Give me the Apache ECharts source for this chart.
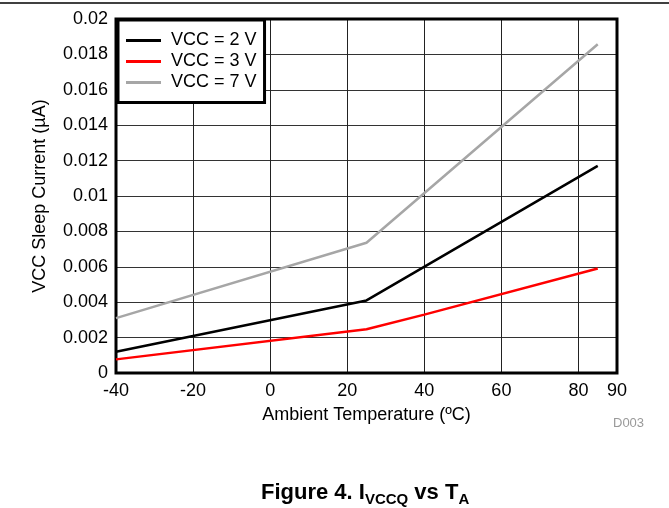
<!DOCTYPE html>
<html>
<head>
<meta charset="utf-8">
<script src="https://cdn.jsdelivr.net/npm/echarts@6/dist/echarts.min.js"></script>
<style>
html,body{margin:0;padding:0;background:#fff;}
#c{width:669px;height:508px;}
</style>
</head>
<body>
<div id="c"></div>
<script>
// Data
var seriesNames = ['VCC = 2 V', 'VCC = 3 V', 'VCC = 7 V'];
var tempVcc2 = [-40, 25, 85];
var currVcc2 = [0.0012, 0.0041, 0.0117];
var tempVcc3 = [-40, 25, 40, 85];
var currVcc3 = [0.00077, 0.00247, 0.0033, 0.0059];
var tempVcc7 = [-40, 25, 85];
var currVcc7 = [0.0031, 0.00736, 0.01857];
var xMin = -40, xMax = 90, xStep = 20;
var yMin = 0, yMax = 0.02, yStep = 0.002;

function pairs(xs, ys) { return xs.map(function (x, i) { return [x, ys[i]]; }); }

var FONT = "'Liberation Sans', Arial, sans-serif";
var chart = echarts.init(document.getElementById('c'), null, {renderer: 'canvas'});
chart.setOption({
  animation: false,
  backgroundColor: '#fff',
  textStyle: {fontFamily: FONT},
  title: {
    left: 261,
    top: 479,
    padding: 0,
    text: '{a|Figure 4. I}{s|VCCQ}{a| vs T}{s|A}',
    textStyle: {
      rich: {
        a: {fontFamily: FONT, fontSize: 22, fontWeight: 'bold', color: '#000', lineHeight: 28, verticalAlign: 'middle'},
        s: {fontFamily: FONT, fontSize: 15, fontWeight: 'bold', color: '#000', lineHeight: 15, verticalAlign: 'bottom'}
      }
    }
  },
  grid: {
    left: 116, right: 52, top: 19, bottom: 135,
    show: true, borderColor: '#000', borderWidth: 3, backgroundColor: 'transparent', z: 3
  },
  legend: {
    orient: 'vertical',
    left: 118, top: 20,
    padding: [10.5, 8, 10, 8],
    itemGap: 1,
    itemWidth: 35, itemHeight: 3,
    icon: 'rect',
    backgroundColor: '#fff',
    borderColor: '#000', borderWidth: 3,
    textStyle: {fontFamily: FONT, fontSize: 18, color: '#000', lineHeight: 20, padding: [0, 0, 0, 5]},
    data: seriesNames,
    z: 10
  },
  xAxis: {
    type: 'value', min: xMin, max: xMax, interval: xStep,
    name: 'Ambient Temperature (ºC)', nameLocation: 'middle', nameGap: 33,
    nameTextStyle: {fontFamily: FONT, fontSize: 18, color: '#000'},
    axisLine: {show: false}, axisTick: {show: false},
    axisLabel: {fontFamily: FONT, fontSize: 18, color: '#000', margin: 9},
    splitLine: {show: true, lineStyle: {color: '#222', width: 1}}
  },
  yAxis: {
    type: 'value', min: yMin, max: yMax, interval: yStep,
    name: 'VCC Sleep Current (µA)', nameLocation: 'middle', nameGap: 67,
    nameTextStyle: {fontFamily: FONT, fontSize: 18, color: '#000'},
    axisLine: {show: false}, axisTick: {show: false},
    axisLabel: {fontFamily: FONT, fontSize: 18, color: '#000', margin: 8},
    splitLine: {show: true, lineStyle: {color: '#333', width: 1}}
  },
  series: [
    {name: seriesNames[0], type: 'line', symbol: 'none', color: '#000', lineStyle: {width: 2.5, color: '#000'}, data: pairs(tempVcc2, currVcc2), z: 5},
    {name: seriesNames[1], type: 'line', symbol: 'none', color: '#ff0000', lineStyle: {width: 2.5, color: '#ff0000'}, data: pairs(tempVcc3, currVcc3), z: 5},
    {name: seriesNames[2], type: 'line', symbol: 'none', color: '#a6a6a6', lineStyle: {width: 2.5, color: '#a6a6a6'}, data: pairs(tempVcc7, currVcc7), z: 5}
  ],
  graphic: [
    {type: 'line', shape: {x1: 0, y1: 3, x2: 669, y2: 3}, style: {stroke: '#000', lineWidth: 1.5}},
    {type: 'text', left: 613, top: 417, style: {text: 'D003', fill: '#999', font: '13px ' + FONT}}
  ]
});
</script>
</body>
</html>
